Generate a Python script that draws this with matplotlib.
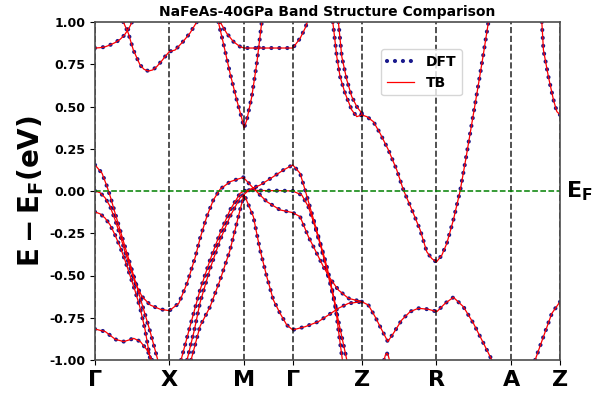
import numpy as np
import matplotlib
matplotlib.use('Agg')
import matplotlib.pyplot as plt

# high-symmetry points along the k-path
kticks = [0.0, 0.743, 1.49, 1.977, 2.667, 3.41, 4.16, 4.65]
klabels = ['Γ', 'X', 'M', 'Γ', 'Z', 'R', 'A', 'Z']

# bands (k along path, E - EF in eV)
bA_k = [0, 0.05, 0.10, 0.15, 0.20, 0.25, 0.29, 0.317, 0.345, 0.367, 0.38]
bA_e = [0.846, 0.848, 0.853, 0.864, 0.878, 0.897, 0.92, 0.943, 0.97, 0.996, 1.02]

bB_k = [0.283, 0.333, 0.383, 0.45, 0.49, 0.533, 0.575, 0.617, 0.66, 0.70, 0.743, 0.80, 0.88, 0.95, 1.017]
bB_e = [1.0, 0.933, 0.834, 0.746, 0.72, 0.71, 0.716, 0.736, 0.765, 0.795, 0.825, 0.834, 0.884, 0.935, 1.0]

bV_k = [1.233, 1.283, 1.35, 1.417, 1.467, 1.49, 1.517, 1.567, 1.617, 1.667]
bV_e = [1.0, 0.874, 0.696, 0.538, 0.43, 0.373, 0.42, 0.558, 0.755, 1.0]

bC_k = [1.25, 1.317, 1.383, 1.45, 1.49, 1.6, 1.75, 1.9, 1.977, 2.05, 2.10, 2.123]
bC_e = [1.0, 0.933, 0.884, 0.854, 0.846, 0.846, 0.846, 0.846, 0.846, 0.903, 0.963, 1.0]

bD1_k = [2.377, 2.39, 2.417, 2.45, 2.50, 2.567, 2.617, 2.667]
bD1_e = [1.0, 0.935, 0.795, 0.676, 0.578, 0.479, 0.44, 0.45]

bD2_k = [2.433, 2.467, 2.517, 2.567, 2.617, 2.667]
bD2_e = [1.0, 0.795, 0.657, 0.558, 0.499, 0.46]

bP_k = [2.667, 2.717, 2.783, 2.85, 2.933, 3.017, 3.083, 3.167, 3.25, 3.317, 3.367, 3.413,
        3.467, 3.517, 3.583, 3.65, 3.71, 3.77, 3.83, 3.88, 3.933]
bP_e = [0.45, 0.44, 0.41, 0.341, 0.243, 0.124, 0.006, -0.11, -0.23, -0.36, -0.40, -0.42,
        -0.38, -0.31, -0.17, 0.0, 0.20, 0.41, 0.62, 0.80, 1.0]

bR_k = [4.467, 4.483, 4.533, 4.583, 4.617, 4.65]
bR_e = [1.0, 0.834, 0.675, 0.54, 0.47, 0.45]

bL_k = [2.667, 2.733, 2.80, 2.867, 2.927, 2.983, 3.067, 3.15, 3.233, 3.333, 3.417, 3.50,
        3.583, 3.683, 3.783, 3.883, 3.967]
bL_e = [-0.655, -0.675, -0.744, -0.822, -0.891, -0.842, -0.763, -0.714, -0.694, -0.70, -0.714, -0.665,
        -0.629, -0.685, -0.783, -0.90, -1.0]

bAZ_k = [4.40, 4.483, 4.567, 4.643, 4.65]
bAZ_e = [-1.0, -0.862, -0.724, -0.66, -0.655]

arc_k = [2.89, 2.903, 2.917, 2.93, 2.943]
arc_e = [-1.0, -0.97, -0.96, -0.97, -1.0]

g1_k = [0, 0.07, 0.12, 0.153, 0.20, 0.25, 0.30, 0.35, 0.40, 0.45, 0.50, 0.55, 0.60, 0.627]
g1_e = [0.154, 0.105, 0.026, -0.034, -0.13, -0.23, -0.33, -0.43, -0.53, -0.63, -0.73, -0.83, -0.94, -1.0]

g2_k = [0, 0.05, 0.10, 0.15, 0.20, 0.25, 0.30, 0.35, 0.403, 0.47, 0.553, 0.653, 0.743,
        0.837, 0.92, 1.003, 1.05, 1.117, 1.183, 1.25, 1.35, 1.483,
        1.583, 1.717, 1.85, 1.977,
        2.05, 2.133, 2.217, 2.283, 2.35, 2.433, 2.533, 2.667]
g2_e = [0.0, -0.01, -0.04, -0.09, -0.17, -0.26, -0.36, -0.45, -0.546, -0.625, -0.675, -0.70, -0.708,
        -0.665, -0.546, -0.389, -0.28, -0.152, -0.053, 0.01, 0.055, 0.081,
        0.016, -0.063, -0.112, -0.128,
        -0.152, -0.27, -0.369, -0.448, -0.517, -0.586, -0.635, -0.655]

g3_k = [0, 0.05, 0.10, 0.15, 0.20, 0.25, 0.30, 0.35, 0.40, 0.45, 0.50, 0.553]
g3_e = [-0.124, -0.135, -0.16, -0.20, -0.26, -0.33, -0.41, -0.50, -0.59, -0.69, -0.82, -1.0]

g4_k = [0, 0.103, 0.203, 0.287, 0.337, 0.387, 0.453, 0.52, 0.57]
g4_e = [-0.817, -0.832, -0.878, -0.891, -0.882, -0.872, -0.891, -0.941, -1.0]

e1_k = [0.86, 0.95, 1.05, 1.15, 1.25, 1.35, 1.45, 1.49, 1.55, 1.65, 1.75, 1.85, 1.977,
        2.067, 2.133, 2.20, 2.267, 2.317, 2.367, 2.417, 2.467, 2.517]
e1_e = [-1.0, -0.80, -0.586, -0.408, -0.25, -0.112, -0.014, 0.0, 0.005, 0.003, 0.002, 0.002, 0.0,
        -0.024, -0.093, -0.211, -0.349, -0.467, -0.586, -0.724, -0.862, -1.0]

e2_k = [0.92, 0.99, 1.05, 1.15, 1.25, 1.35, 1.45, 1.49, 1.55, 1.65, 1.783, 1.883, 1.977,
        2.05, 2.10, 2.167, 2.233, 2.30, 2.35, 2.40, 2.433, 2.473]
e2_e = [-1.0, -0.83, -0.66, -0.46, -0.29, -0.15, -0.04, -0.02, 0.01, 0.035, 0.085, 0.124, 0.154,
        0.105, 0.006, -0.132, -0.27, -0.408, -0.527, -0.665, -0.822, -1.0]

e3_k = [0.96, 1.05, 1.15, 1.25, 1.35, 1.433, 1.483, 1.50, 1.583, 1.65, 1.717, 1.783, 1.85, 1.917, 1.977,
        2.10, 2.233, 2.333, 2.433, 2.533, 2.667]
e3_e = [-1.0, -0.80, -0.685, -0.527, -0.349, -0.152, -0.034, -0.034, -0.152, -0.349, -0.507, -0.645, -0.724, -0.793, -0.822,
        -0.803, -0.773, -0.734, -0.694, -0.665, -0.655]

bands = [(bA_k, bA_e), (bB_k, bB_e), (bV_k, bV_e), (bC_k, bC_e), (bD1_k, bD1_e), (bD2_k, bD2_e),
         (bP_k, bP_e), (bR_k, bR_e), (bL_k, bL_e), (bAZ_k, bAZ_e), (arc_k, arc_e),
         (g1_k, g1_e), (g2_k, g2_e), (g3_k, g3_e), (g4_k, g4_e),
         (e1_k, e1_e), (e2_k, e2_e), (e3_k, e3_e)]

fig = plt.figure(figsize=(5.94, 4), dpi=100)
ax = fig.add_axes([0.16, 0.1, 0.783, 0.845])

for i, (k, e) in enumerate(bands):
    ax.plot(k, e, color='navy', lw=3.0, alpha=0.9, linestyle=(0, (0.01, 1.9)),
            dash_capstyle='round', label='DFT' if i == 0 else None)
for i, (k, e) in enumerate(bands):
    ax.plot(k, e, color='red', lw=0.9, label='TB' if i == 0 else None)

for k in kticks:
    ax.axvline(k, color='k', ls='--', lw=1.2, alpha=0.8)
ax.axhline(0, color='green', ls='--', lw=1.1)

ax.set_xlim(kticks[0], kticks[-1])
ax.set_ylim(-1, 1)
ax.set_xticks(kticks)
ax.set_xticklabels(klabels, fontsize=16, fontweight='bold')
ax.set_yticks(np.arange(-1, 1.01, 0.25))
ax.set_yticklabels(['%.2f' % v for v in np.arange(-1, 1.01, 0.25)], fontsize=9, fontweight='bold')
ax.set_ylabel(r'$\mathbf{E-E_F(eV)}$', fontsize=20, labelpad=2)
ax.set_title('NaFeAs-40GPa Band Structure Comparison', fontsize=10, fontweight='bold', pad=4)
ax.text(1.012, 0, r'$\mathbf{E_F}$', transform=ax.get_yaxis_transform(), va='center', ha='left', fontsize=16)
for s in ax.spines.values():
    s.set_color('0.3')
    s.set_linewidth(1.2)

ax.legend(loc='upper left', bbox_to_anchor=(0.6, 0.94), prop={'weight': 'bold', 'size': 10}, handlelength=2.0)

fig.savefig('out.png', dpi=100)
